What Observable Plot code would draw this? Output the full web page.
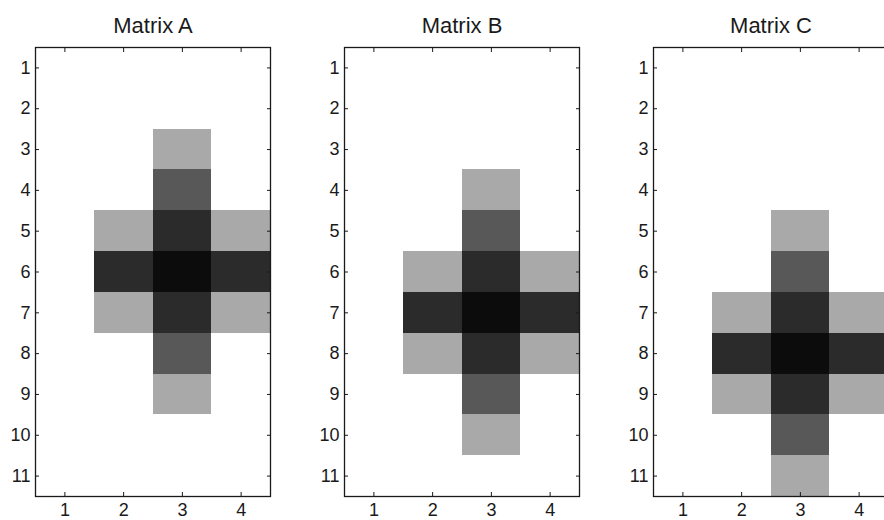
<!DOCTYPE html>
<html>
<head>
<meta charset="utf-8">
<script src="https://cdn.jsdelivr.net/npm/d3@7"></script>
<script src="https://cdn.jsdelivr.net/npm/@observablehq/plot@0.6"></script>
<style>
  html, body { margin: 0; padding: 0; background: #fff; overflow: hidden; width: 884px; height: 520px; }
  #row { display: flex; flex-direction: row; width: 884px; height: 520px; overflow: hidden; }
  #row > svg { flex: 0 0 auto; }
</style>
</head>
<body>
<div id="row"></div>
<script>
const columns = [1, 2, 3, 4];
const rows = [1, 2, 3, 4, 5, 6, 7, 8, 9, 10, 11];
const titles = ["Matrix A", "Matrix B", "Matrix C"];

const matrixA = [
  [0, 0, 0, 0],
  [0, 0, 0, 0],
  [0, 0, 1, 0],
  [0, 0, 2, 0],
  [0, 1, 3, 1],
  [0, 3, 4, 3],
  [0, 1, 3, 1],
  [0, 0, 2, 0],
  [0, 0, 1, 0],
  [0, 0, 0, 0],
  [0, 0, 0, 0]
];
const matrixB = [
  [0, 0, 0, 0],
  [0, 0, 0, 0],
  [0, 0, 0, 0],
  [0, 0, 1, 0],
  [0, 0, 2, 0],
  [0, 1, 3, 1],
  [0, 3, 4, 3],
  [0, 1, 3, 1],
  [0, 0, 2, 0],
  [0, 0, 1, 0],
  [0, 0, 0, 0]
];
const matrixC = [
  [0, 0, 0, 0],
  [0, 0, 0, 0],
  [0, 0, 0, 0],
  [0, 0, 0, 0],
  [0, 0, 1, 0],
  [0, 0, 2, 0],
  [0, 1, 3, 1],
  [0, 3, 4, 3],
  [0, 1, 3, 1],
  [0, 0, 2, 0],
  [0, 0, 1, 0]
];
const levels = [0, 1, 2, 3, 4];
const grays = ["#ffffff", "#a9a9a9", "#585858", "#2b2b2b", "#0c0c0c"];

const matrices = [matrixA, matrixB, matrixC];
const font = "'Liberation Sans', Arial, Helvetica, sans-serif";
const ink = "#1a1a1a";

const container = document.getElementById("row");

matrices.forEach((m, i) => {
  const cells = m.flatMap((r, ri) => r.map((v, ci) => ({row: rows[ri], col: columns[ci], value: v})));
  const chart = Plot.plot({
    width: 309,
    height: 520,
    marginLeft: 35,
    marginRight: 39,
    marginTop: 47,
    marginBottom: 24,
    style: {fontFamily: font, fontSize: "18px", color: ink, background: "#fff", overflow: "visible"},
    x: {type: "band", domain: columns, padding: 0, round: false, label: null},
    y: {type: "band", domain: rows, padding: 0, round: false, label: null},
    color: {type: "ordinal", domain: levels, range: grays},
    marks: [
      Plot.cell(cells, {x: "col", y: "row", fill: "value", inset: 0, shapeRendering: "crispEdges"}),
      Plot.frame({stroke: ink, strokeWidth: 1.3}),
      Plot.axisX({anchor: "bottom", tickSize: -4, tickPadding: 11, fontSize: 18, stroke: ink, fill: ink, label: null}),
      Plot.axisX({anchor: "top", tickSize: -4, tickFormat: () => "", stroke: ink, label: null}),
      Plot.axisY({anchor: "left", tickSize: -4, tickPadding: 9, fontSize: 18, stroke: ink, fill: ink, label: null}),
      Plot.axisY({anchor: "right", tickSize: -4, tickFormat: () => "", stroke: ink, label: null}),
      Plot.text([titles[i]], {frameAnchor: "top", dy: -15, lineAnchor: "bottom", fontSize: 22, fill: ink, fontFamily: font})
    ]
  });
  container.appendChild(chart);
});
</script>
</body>
</html>
